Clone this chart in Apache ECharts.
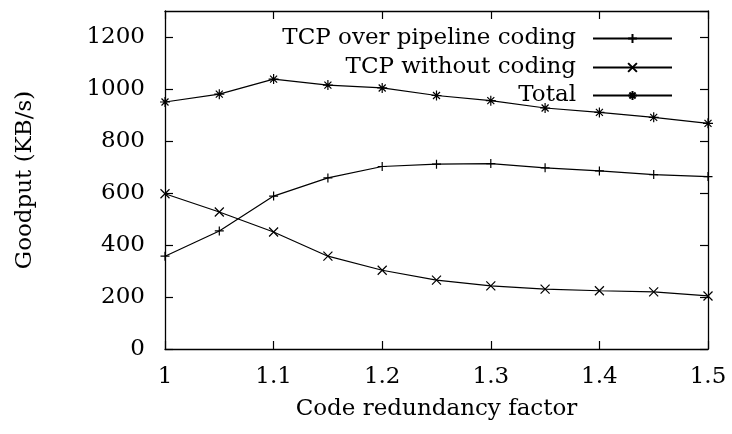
<!DOCTYPE html>
<html>
<head>
<meta charset="utf-8">
<script src="https://cdn.jsdelivr.net/npm/echarts@6/dist/echarts.min.js"></script>
<style>
  html, body { margin: 0; padding: 0; background: #fff; }
  #chart { width: 732px; height: 434px; }
</style>
</head>
<body>
<div id="chart"></div>
<script>
// Goodput vs code redundancy factor (gnuplot-style line chart)

const FONT = 'DejaVu Serif';
const FS = 23;

const redundancy = [1, 1.05, 1.1, 1.15, 1.2, 1.25, 1.3, 1.35, 1.4, 1.45, 1.5];
const pipelineGoodput = [357, 454, 588, 658, 702, 711, 713, 697, 685, 671, 663];
const noCodingGoodput = [597, 527, 450, 357, 303, 265, 243, 230, 224, 220, 204];
const totalGoodput = [950, 980, 1038, 1015, 1004, 975, 955, 927, 910, 891, 868];

const seriesNames = ['TCP over pipeline coding', 'TCP without coding', 'Total'];

// gnuplot point types: + , x , *
const PLUS = 'path://M0,5L10,5M5,0L5,10';
const CROSS = 'path://M0,0L10,10M10,0L0,10';
const STAR = 'path://M0,5L10,5M5,0L5,10M1.5,1.5L8.5,8.5M8.5,1.5L1.5,8.5';
const symbols = [PLUS, CROSS, STAR];
const symbolSizes = [9, 9, 10];
const values = [pipelineGoodput, noCodingGoodput, totalGoodput];

const chart = echarts.init(document.getElementById('chart'), null, { renderer: 'canvas' });

const axisCommon = {
  type: 'value',
  axisLine: { show: true, onZero: false, lineStyle: { color: '#000', width: 1.3 } },
  axisTick: { show: true, inside: true, length: 8, lineStyle: { color: '#000', width: 1.2 } },
  splitLine: { show: false }
};

const legendTops = [22, 51, 79];

const option = {
  animation: false,
  textStyle: { fontFamily: FONT },
  grid: { left: 165, right: 24, top: 11, bottom: 85, containLabel: false },
  legend: seriesNames.map((name, i) => ({
    data: [name],
    right: 54,
    top: legendTops[i],
    align: 'right',
    itemWidth: 79,
    itemHeight: 11,
    selectedMode: false,
    textStyle: { fontFamily: FONT, fontSize: FS, color: '#000', padding: [0, 12, 0, 0] }
  })),
  xAxis: [
    Object.assign({}, axisCommon, {
      min: 1, max: 1.5, interval: 0.1,
      position: 'bottom',
      name: 'Code redundancy factor',
      nameLocation: 'middle',
      nameGap: 49,
      nameTextStyle: { fontFamily: FONT, fontSize: FS, color: '#000' },
      axisLabel: { color: '#000', fontFamily: FONT, fontSize: FS, margin: 17, formatter: v => String(+v.toFixed(1)) }
    }),
    Object.assign({}, axisCommon, {
      min: 1, max: 1.5, interval: 0.1,
      position: 'top',
      axisLabel: { show: false }
    })
  ],
  yAxis: [
    Object.assign({}, axisCommon, {
      min: 0, max: 1300, interval: 200,
      position: 'left',
      name: 'Goodput (KB/s)',
      nameLocation: 'middle',
      nameGap: 128,
      nameTextStyle: { fontFamily: FONT, fontSize: FS, color: '#000' },
      axisLabel: { color: '#000', fontFamily: FONT, fontSize: FS, margin: 20, showMaxLabel: false, formatter: v => String(v) }
    }),
    Object.assign({}, axisCommon, {
      min: 0, max: 1300, interval: 200,
      position: 'right',
      axisLabel: { show: false }
    })
  ],
  series: seriesNames.map((name, i) => ({
    name: name,
    type: 'line',
    data: redundancy.map((x, j) => [x, values[i][j]]),
    symbol: symbols[i],
    symbolSize: symbolSizes[i],
    showAllSymbol: true,
    lineStyle: { color: '#000', width: 1.2 },
    itemStyle: { color: 'none', borderColor: '#000', borderWidth: 1.2 }
  }))
};

chart.setOption(option);
</script>
</body>
</html>
